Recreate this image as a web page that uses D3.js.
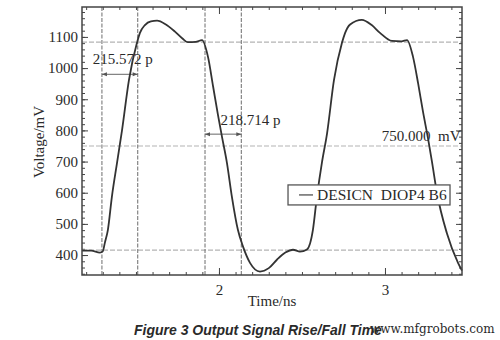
<!DOCTYPE html>
<meta charset="utf-8">
<style>
  body { margin: 0; background: #fff; }
  svg text { fill: #2a2a2a; white-space: pre; }
</style>
<svg width="500" height="340"></svg>
<script src="https://cdn.jsdelivr.net/npm/d3@7"></script>
<script>

// waveform (time in ns, voltage in mV)
var times = [1.175, 1.230, 1.283, 1.300, 1.313, 1.331, 1.355, 1.386, 1.416, 1.458, 1.506, 1.524, 1.554, 1.590, 1.627, 1.680, 1.735, 1.780, 1.813, 1.860, 1.898, 1.934, 1.965, 1.994, 2.018, 2.048, 2.078, 2.114, 2.145, 2.187, 2.247, 2.300, 2.349, 2.400, 2.446, 2.488, 2.530, 2.566, 2.590, 2.620, 2.651, 2.693, 2.741, 2.760, 2.790, 2.861, 2.920, 2.970, 3.042, 3.100, 3.133, 3.169, 3.200, 3.229, 3.259, 3.283, 3.313, 3.373, 3.440, 3.464];
var volts = [414, 414, 408, 412, 440, 481, 587, 696, 800, 962, 1081, 1113, 1138, 1150, 1152, 1140, 1117, 1095, 1083, 1084, 1090, 1036, 940, 850, 780, 696, 587, 481, 427, 375, 347, 358, 385, 408, 417, 411, 418, 481, 587, 696, 790, 962, 1081, 1113, 1140, 1155, 1138, 1113, 1087, 1086, 1090, 1036, 950, 860, 775, 700, 600, 470, 375, 350];

// cursor lines and reference levels
var cursorStart = [1.295, 1.916];
var cursorWidth = [0.215572, 0.218714];   // ns
var cursorLabels = ["215.572 p", "218.714 p"];
var levels = [1083, 750, 416];

var xMajor = [2, 3];
var yMajor = [400, 500, 600, 700, 800, 900, 1000, 1100];

var svg = d3.select("svg"),
    margin = {top: 7, right: 38, bottom: 65, left: 82},
    width = +svg.attr("width") - margin.left - margin.right,
    height = +svg.attr("height") - margin.top - margin.bottom,
    g = svg.append("g").attr("transform", "translate(" + margin.left + "," + margin.top + ")");

var x = d3.scaleLinear().domain([1.175, 3.464]).range([0, width]);
var y = d3.scaleLinear().domain([336, 1196]).range([height, 0]);

var serif = "'Liberation Serif', 'Times New Roman', serif";

// minor ticks
var xMinor = d3.range(1.2, 3.46, 0.1);
var yMinor = d3.range(340, 1196, 20);

function styleAxis(sel) {
  sel.select(".domain").remove();
  sel.selectAll("line").attr("stroke", "#444");
  sel.selectAll("text").style("font-family", serif).style("font-size", "15px").attr("fill", "#2a2a2a");
}

g.append("g").attr("transform", "translate(0," + height + ")")
  .call(d3.axisBottom(x).tickValues(xMinor).tickSize(-3).tickFormat("")).call(styleAxis);
g.append("g")
  .call(d3.axisTop(x).tickValues(xMinor).tickSize(-3).tickFormat("")).call(styleAxis);
g.append("g")
  .call(d3.axisLeft(y).tickValues(yMinor).tickSize(-3).tickFormat("")).call(styleAxis);
g.append("g").attr("transform", "translate(" + width + ",0)")
  .call(d3.axisRight(y).tickValues(yMinor).tickSize(-3).tickFormat("")).call(styleAxis);

// major ticks + labels
g.append("g").attr("transform", "translate(0," + height + ")")
  .call(d3.axisBottom(x).tickValues(xMajor).tickSize(-7).tickPadding(9).tickFormat(d3.format("d"))).call(styleAxis);
g.append("g")
  .call(d3.axisTop(x).tickValues(xMajor).tickSize(-7).tickFormat("")).call(styleAxis);
g.append("g")
  .call(d3.axisLeft(y).tickValues(yMajor).tickSize(-6).tickPadding(4).tickFormat(d3.format("d"))).call(styleAxis);
g.append("g").attr("transform", "translate(" + width + ",0)")
  .call(d3.axisRight(y).tickValues(yMajor).tickSize(-6).tickFormat("")).call(styleAxis);

// reference levels
g.selectAll(".level").data(levels).enter().append("line")
  .attr("x1", 0).attr("x2", width)
  .attr("y1", function(d) { return y(d); }).attr("y2", function(d) { return y(d); })
  .attr("stroke", "#b4b4b4").attr("stroke-width", 1.2).attr("stroke-dasharray", "5,2");

// cursor lines
var cursors = [];
cursorStart.forEach(function(t, i) { cursors.push(t, t + cursorWidth[i]); });
g.selectAll(".cursor").data(cursors).enter().append("line")
  .attr("x1", function(d) { return x(d); }).attr("x2", function(d) { return x(d); })
  .attr("y1", 0).attr("y2", height)
  .attr("stroke", "#7a7a7a").attr("stroke-width", 1.1).attr("stroke-dasharray", "4,1.5");

// measurement arrows
svg.append("defs").append("marker")
  .attr("id", "ah").attr("viewBox", "0 0 10 10").attr("refX", 10).attr("refY", 5)
  .attr("markerWidth", 6).attr("markerHeight", 5).attr("orient", "auto-start-reverse")
  .append("path").attr("d", "M0,1L10,5L0,9Z").attr("fill", "#555");

var arrowV = [980, 788];
cursorStart.forEach(function(t, i) {
  g.append("line")
    .attr("x1", x(t)).attr("x2", x(t + cursorWidth[i]))
    .attr("y1", y(arrowV[i])).attr("y2", y(arrowV[i]))
    .attr("stroke", "#666").attr("stroke-width", 1)
    .attr("marker-start", "url(#ah)").attr("marker-end", "url(#ah)");
});

g.append("text").attr("x", x(1.24)).attr("y", y(1012))
  .style("font-family", serif).style("font-size", "15px").text(cursorLabels[0]);
g.append("text").attr("x", x(2.01)).attr("y", y(818))
  .style("font-family", serif).style("font-size", "15px").text(cursorLabels[1]);
g.append("text").attr("x", x(3.455)).attr("y", y(765)).attr("text-anchor", "end")
  .style("font-family", serif).style("font-size", "15px").text("750.000  mV");

// the waveform
var pts = times.map(function(t, i) { return [t, volts[i]]; });
var line = d3.line()
  .x(function(d) { return x(d[0]); })
  .y(function(d) { return y(d[1]); })
  .curve(d3.curveMonotoneX);

g.append("path")
  .attr("d", line(pts))
  .attr("fill", "none").attr("stroke", "#333").attr("stroke-width", 1.8);

// frame
g.append("rect").attr("width", width).attr("height", height)
  .attr("fill", "none").attr("stroke", "#444").attr("stroke-width", 1.5);

// legend
var lg = g.append("g").attr("transform", "translate(" + x(2.416) + "," + y(625) + ")");
lg.append("rect").attr("width", 162).attr("height", 20)
  .attr("fill", "#fff").attr("stroke", "#555").attr("stroke-width", 1.3);
lg.append("line").attr("x1", 11).attr("x2", 25).attr("y1", 10).attr("y2", 10)
  .attr("stroke", "#444").attr("stroke-width", 1.2);
lg.append("text").attr("x", 29).attr("y", 15.5)
  .style("font-family", serif).style("font-size", "15.5px").text("DESICN  DIOP4 B6");

// axis titles
svg.append("text")
  .attr("transform", "translate(44," + 142 + ") rotate(-90)")
  .attr("text-anchor", "middle")
  .style("font-family", serif).style("font-size", "15px").text("Voltage/mV");
svg.append("text").attr("x", 272).attr("y", 306).attr("text-anchor", "middle")
  .style("font-family", serif).style("font-size", "15px").attr("fill", "#444").text("Time/ns");

// caption + watermark
svg.append("text").attr("x", 134).attr("y", 335)
  .style("font-family", "'Liberation Sans', Arial, sans-serif").style("font-size", "14px")
  .style("font-weight", "bold").style("font-style", "italic").attr("fill", "#111")
  .text("Figure 3 Output Signal Rise/Fall Time");
svg.append("text").attr("x", 370).attr("y", 333)
  .style("font-family", "'DejaVu Serif', serif").style("font-size", "12px").attr("fill", "#333")
  .text("www.mfgrobots.com");

</script>
